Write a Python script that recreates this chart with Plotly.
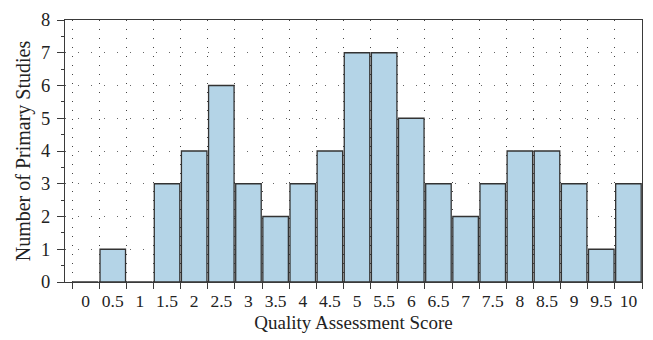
import plotly.graph_objects as go

# Score bins (category labels) and number of studies per bin
scores = ["0", "0.5", "1", "1.5", "2", "2.5", "3", "3.5", "4", "4.5", "5",
          "5.5", "6", "6.5", "7", "7.5", "8", "8.5", "9", "9.5", "10"]
studies = [0, 1, 0, 3, 4, 6, 3, 2, 3, 4, 7, 7, 5, 3, 2, 3, 4, 4, 3, 1, 3]
y_ticks = [0, 1, 2, 3, 4, 5, 6, 7, 8]

FONT = "Liberation Serif, Times New Roman, serif"
AXIS_COLOR = "#3a3a3a"

fig = go.Figure(
    go.Bar(
        x=scores,
        y=studies,
        marker=dict(color="#b4d4e7", line=dict(color="#333333", width=1.3)),
        hoverinfo="x+y",
    )
)

fig.update_layout(
    width=653,
    height=340,
    margin=dict(l=65, r=10, t=13, b=58),
    paper_bgcolor="white",
    plot_bgcolor="white",
    bargap=0.06,
    showlegend=False,
    font=dict(family=FONT, size=17, color="#222222"),
)

fig.update_xaxes(
    type="category",
    categoryorder="array",
    categoryarray=scores,
    range=[-0.76, 20.5],
    tickson="boundaries",
    tickangle=0,
    ticks="outside",
    ticklen=6,
    tickwidth=1,
    tickcolor=AXIS_COLOR,
    showline=True,
    linecolor=AXIS_COLOR,
    linewidth=1.3,
    mirror=True,
    showgrid=True,
    gridcolor="#444444",
    gridwidth=1,
    griddash="1px,8px",
    ticklabelstandoff=3,
    tickfont=dict(family=FONT, size=17.5),
    title=dict(text="Quality Assessment Score", font=dict(family=FONT, size=19), standoff=5),
)

fig.update_yaxes(
    range=[0, 8],
    tickvals=y_ticks,
    ticks="outside",
    ticklen=7,
    tickwidth=1,
    tickcolor=AXIS_COLOR,
    showline=True,
    linecolor=AXIS_COLOR,
    linewidth=1.3,
    mirror=True,
    showgrid=True,
    gridcolor="#666666",
    gridwidth=1,
    griddash="1px,12px",
    zeroline=False,
    minor=dict(dtick=0.5, ticks="outside", ticklen=3, tickcolor=AXIS_COLOR, showgrid=False),
    ticklabelstandoff=3,
    tickfont=dict(family=FONT, size=18.5),
    title=dict(text="Number of Primary Studies", font=dict(family=FONT, size=20), standoff=4),
)

fig.write_html("out.html")
